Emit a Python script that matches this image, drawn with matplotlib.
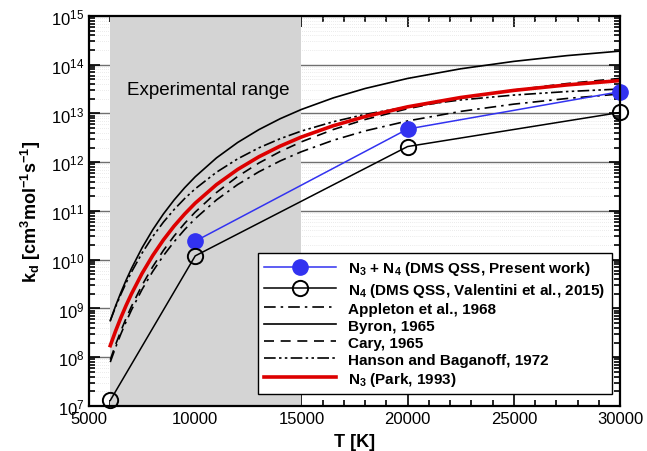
import numpy as np
import matplotlib
matplotlib.use('Agg')
import matplotlib.pyplot as plt
from matplotlib.ticker import MultipleLocator, LogLocator

plt.rcParams['font.family'] = ['Liberation Sans', 'DejaVu Sans']
plt.rcParams['mathtext.fontset'] = 'custom'
plt.rcParams['mathtext.rm'] = 'Liberation Sans'
plt.rcParams['mathtext.it'] = 'Liberation Sans:italic'
plt.rcParams['mathtext.bf'] = 'Liberation Sans:bold'

# curves, stored as log10(k)
T = [6000, 6250, 6500, 6750, 7000, 7500, 8000, 8500, 9000, 9500, 10000, 11000,
     12000, 13000, 14000, 15000, 16500, 18000, 20000, 22500, 25000, 27500, 30000]
byron_log = [8.750, 9.052, 9.329, 9.585, 9.822, 10.247, 10.615, 10.938, 11.223, 11.476, 11.702, 12.089,
             12.406, 12.670, 12.893, 13.083, 13.320, 13.513, 13.719, 13.917, 14.069, 14.187, 14.280]
hanson_log = [8.750, 9.032, 9.291, 9.528, 9.748, 10.139, 10.476, 10.770, 11.027, 11.254, 11.455, 11.795,
              12.070, 12.296, 12.483, 12.640, 12.831, 12.982, 13.137, 13.278, 13.378, 13.450, 13.502]
park_log = [8.238, 8.537, 8.813, 9.067, 9.301, 9.722, 10.087, 10.406, 10.688, 10.937, 11.161, 11.541,
            11.853, 12.113, 12.331, 12.518, 12.749, 12.937, 13.137, 13.328, 13.474, 13.586, 13.675]
cary_log = [7.950, 8.258, 8.541, 8.803, 9.045, 9.480, 9.858, 10.190, 10.484, 10.745, 10.978, 11.379,
            11.709, 11.985, 12.219, 12.419, 12.671, 12.877, 13.098, 13.314, 13.481, 13.614, 13.720]
appleton_log = [7.900, 8.201, 8.478, 8.733, 8.970, 9.393, 9.760, 10.082, 10.366, 10.618, 10.843, 11.227,
                11.543, 11.805, 12.027, 12.216, 12.451, 12.643, 12.847, 13.043, 13.192, 13.308, 13.400]

# DMS QSS points
T_present = [10000, 20000, 30000]
k_present = [2.4e10, 4.8e12, 2.8e13]
T_valentini = [6000, 10000, 20000, 30000]
k_valentini = [1.3e7, 1.2e10, 2.1e12, 1.05e13]

fig = plt.figure(figsize=(6.47, 4.52), dpi=100)
ax = fig.add_axes([0.1376, 0.0996, 0.8207, 0.8628])
ax.set_axisbelow(True)

ax.axvspan(6000, 15000, color='#d4d4d4', lw=0, zorder=1)
ax.text(10600, 10**13.5, 'Experimental range', ha='center', va='center', fontsize=13.5, zorder=2)

ax.plot(T_present, k_present, '-o', color='#3232f0', lw=1.1, ms=11, zorder=6,
        label=r'N$_\mathbf{3}$ + N$_\mathbf{4}$ (DMS QSS, Present work)', clip_on=False)
ax.plot(T_valentini, k_valentini, '-o', color='black', mfc='none', mec='black', mew=1.4, lw=1.1, ms=11, zorder=6,
        label=r'N$_\mathbf{4}$ (DMS QSS, Valentini et al., 2015)', clip_on=False)
ax.plot(T, 10 ** np.array(appleton_log), color='black', lw=1.2, dashes=[7, 3, 1.5, 3],
        label='Appleton et al., 1968', zorder=4)
ax.plot(T, 10 ** np.array(byron_log), color='black', lw=1.2, label='Byron, 1965', zorder=4)
ax.plot(T, 10 ** np.array(cary_log), color='black', lw=1.2, dashes=[6, 4], label='Cary, 1965', zorder=4)
ax.plot(T, 10 ** np.array(hanson_log), color='black', lw=1.2, dashes=[7, 2, 1.5, 2, 1.5, 2],
        label='Hanson and Baganoff, 1972', zorder=4)
ax.plot(T, 10 ** np.array(park_log), color='#dd0000', lw=2.6, label=r'N$_\mathbf{3}$ (Park, 1993)', zorder=5)

ax.set_yscale('log')
ax.set_xlim(5000, 30000)
ax.set_ylim(1e7, 1e15)
ax.xaxis.set_major_locator(MultipleLocator(5000))
ax.xaxis.set_minor_locator(MultipleLocator(1000))
ax.yaxis.set_major_locator(LogLocator(base=10, numticks=20))
ax.yaxis.set_minor_locator(LogLocator(base=10, subs=np.arange(2, 10), numticks=20))

ax.grid(True, which='major', axis='y', color='#707070', lw=1.0)
ax.grid(True, which='minor', axis='y', color='#d8d8d8', lw=0.5, dashes=(1, 2))

ax.tick_params(which='both', direction='in', top=True, right=True, labelsize=12, width=1.2)
ax.tick_params(which='major', length=8)
ax.tick_params(which='minor', length=4)
for s in ax.spines.values():
    s.set_linewidth(1.6)
    s.set_zorder(7)

ax.set_xlabel('T [K]', fontsize=13, fontweight='bold', labelpad=5)
ax.set_ylabel(r'$\mathbf{k_d}$ [cm$^\mathbf{3}$mol$^\mathbf{-1}$s$^\mathbf{-1}$]', fontsize=13, fontweight='bold', labelpad=6)

leg = ax.legend(loc='lower right', bbox_to_anchor=(0.984, 0.031), borderaxespad=0,
                prop={'weight': 'bold', 'size': 11}, handlelength=4.7, handletextpad=0.8,
                labelspacing=0.2, borderpad=0.4, fancybox=False, framealpha=1, edgecolor='black')
leg.get_frame().set_linewidth(1.0)
leg.set_zorder(8)

fig.savefig('out.png', dpi=100)
